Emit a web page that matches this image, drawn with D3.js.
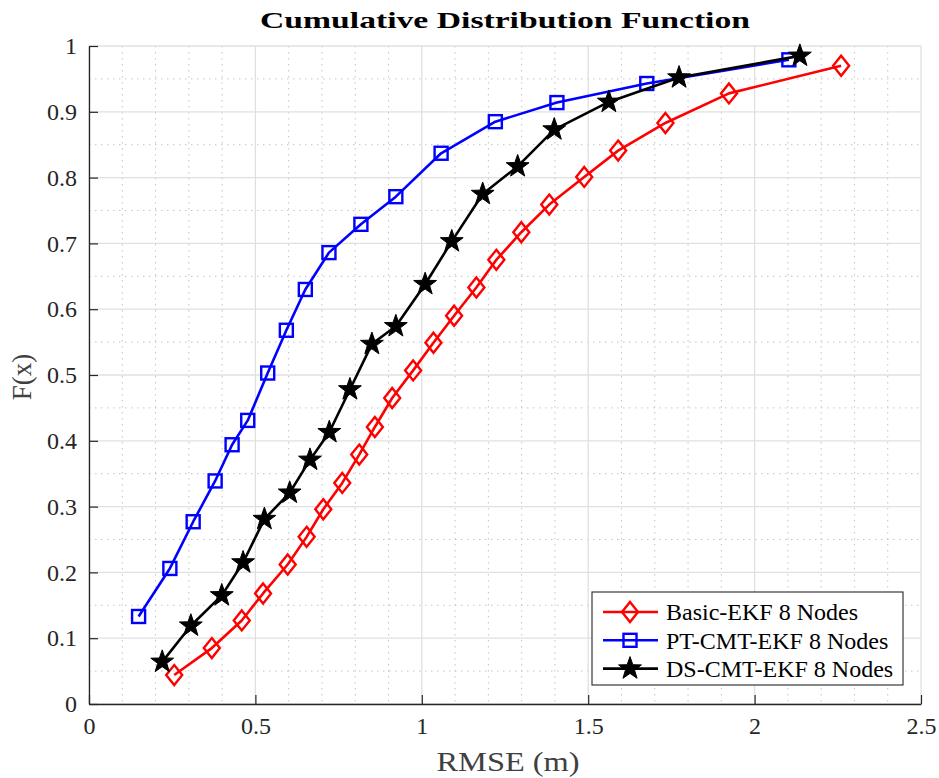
<!DOCTYPE html>
<html>
<head>
<meta charset="utf-8">
<script src="https://cdn.jsdelivr.net/npm/d3@7"></script>
<style>
  body { margin: 0; background: #fff; }
  text { font-family: "Liberation Serif", "DejaVu Serif", serif; }
</style>
</head>
<body>
<svg id="chart" width="939" height="778"></svg>
<script>
// series values (x = RMSE in m, y = F(x))
var basicX = [0.256, 0.369, 0.459, 0.523, 0.597, 0.654, 0.704, 0.761, 0.812, 0.859, 0.911, 0.974, 1.035, 1.097, 1.164, 1.224, 1.299, 1.383, 1.488, 1.590, 1.732, 1.923, 2.260];
var basicY = [0.044, 0.085, 0.127, 0.168, 0.212, 0.254, 0.296, 0.336, 0.379, 0.421, 0.465, 0.507, 0.549, 0.590, 0.633, 0.675, 0.717, 0.759, 0.801, 0.841, 0.883, 0.928, 0.970];

var ptX = [0.149, 0.243, 0.313, 0.379, 0.430, 0.477, 0.537, 0.593, 0.650, 0.721, 0.817, 0.922, 1.058, 1.221, 1.406, 1.676, 2.103];
var ptY = [0.133, 0.206, 0.277, 0.339, 0.394, 0.431, 0.503, 0.568, 0.630, 0.686, 0.729, 0.771, 0.837, 0.885, 0.914, 0.943, 0.979];

var dsX = [0.220, 0.306, 0.399, 0.463, 0.527, 0.603, 0.664, 0.722, 0.784, 0.850, 0.922, 1.010, 1.090, 1.183, 1.288, 1.398, 1.562, 1.773, 2.136];
var dsY = [0.064, 0.119, 0.165, 0.215, 0.281, 0.321, 0.371, 0.413, 0.478, 0.547, 0.574, 0.638, 0.703, 0.775, 0.817, 0.873, 0.915, 0.952, 0.985];

var seriesNames = ["Basic-EKF 8 Nodes", "PT-CMT-EKF 8 Nodes", "DS-CMT-EKF 8 Nodes"];
var xTicks = [0, 0.5, 1, 1.5, 2, 2.5];
var yTicks = [0, 0.1, 0.2, 0.3, 0.4, 0.5, 0.6, 0.7, 0.8, 0.9, 1];

var svg = d3.select("#chart");
// plot box edges
var pLeft = 89, pRight = 921, pTop = 46, pBottom = 704;

var x = d3.scaleLinear().domain([0, 2.5]).range([pLeft, pRight]);
var y = d3.scaleLinear().domain([0, 1]).range([pBottom, pTop]);

// minor grid (dotted)
var minorX = d3.range(0, 2.5001, 0.1).filter(function(v) { return Math.abs(v * 2 - Math.round(v * 2)) > 1e-6; });
var minorY = d3.range(0, 1.0001, 0.05).filter(function(v) { return Math.abs(v * 10 - Math.round(v * 10)) > 1e-6; });

svg.append("g").selectAll("line").data(minorX).enter().append("line")
  .attr("x1", function(d) { return x(d); }).attr("x2", function(d) { return x(d); })
  .attr("y1", pTop).attr("y2", pBottom)
  .attr("stroke", "#c4c4c4").attr("stroke-width", 1).attr("stroke-dasharray", "1.5,4.5");
svg.append("g").selectAll("line").data(minorY).enter().append("line")
  .attr("y1", function(d) { return y(d); }).attr("y2", function(d) { return y(d); })
  .attr("x1", pLeft).attr("x2", pRight)
  .attr("stroke", "#c4c4c4").attr("stroke-width", 1).attr("stroke-dasharray", "1.5,4.5");

// major grid
svg.append("g").selectAll("line").data(xTicks).enter().append("line")
  .attr("x1", function(d) { return x(d); }).attr("x2", function(d) { return x(d); })
  .attr("y1", pTop).attr("y2", pBottom)
  .attr("stroke", "#e0e0e0").attr("stroke-width", 1.3);
svg.append("g").selectAll("line").data(yTicks).enter().append("line")
  .attr("y1", function(d) { return y(d); }).attr("y2", function(d) { return y(d); })
  .attr("x1", pLeft).attr("x2", pRight)
  .attr("stroke", "#e0e0e0").attr("stroke-width", 1.3);

// axes (left and bottom only, ticks pointing inward)
var xAxis = svg.append("g").attr("transform", "translate(0," + pBottom + ")")
  .call(d3.axisBottom(x).tickValues(xTicks).tickSize(-9).tickSizeOuter(0).tickPadding(13)
    .tickFormat(function(d) { return d3.format("")(d); }));
var yAxis = svg.append("g").attr("transform", "translate(" + pLeft + ",0)")
  .call(d3.axisLeft(y).tickValues(yTicks).tickSize(-9).tickSizeOuter(0).tickPadding(12)
    .tickFormat(function(d) { return d3.format("")(d); }));

[xAxis, yAxis].forEach(function(a) {
  a.select(".domain").attr("stroke", "#262626").attr("stroke-width", 1.3);
  a.selectAll(".tick line").attr("stroke", "#262626").attr("stroke-width", 1.2);
  a.selectAll(".tick text").attr("fill", "#262626").style("font-size", "24px")
    .style("font-family", "'Liberation Serif', serif");
});

// titles
svg.append("text").attr("x", 505).attr("y", 28)
  .attr("text-anchor", "middle").style("font-size", "24px").style("font-weight", "bold")
  .attr("textLength", 490).attr("lengthAdjust", "spacingAndGlyphs")
  .attr("fill", "#000").text("Cumulative Distribution Function");
svg.append("text").attr("x", (pLeft + pRight) / 2 + 3).attr("y", 771)
  .attr("text-anchor", "middle").style("font-size", "27px").attr("fill", "#404040")
  .attr("textLength", 143).attr("lengthAdjust", "spacingAndGlyphs").text("RMSE (m)");
svg.append("text").attr("transform", "translate(31," + ((pTop + pBottom) / 2 + 2) + ") rotate(-90)")
  .attr("text-anchor", "middle").style("font-size", "27px").attr("fill", "#404040").text("F(x)");

// series
var series = [
  { name: seriesNames[0], xs: basicX, ys: basicY, color: "#ff0000", marker: "diamond" },
  { name: seriesNames[1], xs: ptX, ys: ptY, color: "#0000ff", marker: "square" },
  { name: seriesNames[2], xs: dsX, ys: dsY, color: "#000000", marker: "star" }
];

var line = d3.line().x(function(d) { return x(d[0]); }).y(function(d) { return y(d[1]); });

function starPath(r) {
  var pts = [];
  for (var i = 0; i < 10; i++) {
    var rr = i % 2 === 0 ? r : r * 0.4;
    var a = -Math.PI / 2 + i * Math.PI / 5;
    pts.push([rr * Math.cos(a), rr * Math.sin(a)]);
  }
  return "M" + pts.map(function(p) { return p[0].toFixed(2) + "," + p[1].toFixed(2); }).join("L") + "Z";
}

function drawMarker(g, kind, color) {
  if (kind === "diamond") {
    g.append("path").attr("d", "M0,-10L8,0L0,10L-8,0Z")
      .attr("fill", "none").attr("stroke", color).attr("stroke-width", 2.4);
  } else if (kind === "square") {
    g.append("rect").attr("x", -6.5).attr("y", -6.5).attr("width", 13).attr("height", 13)
      .attr("fill", "none").attr("stroke", color).attr("stroke-width", 2.4);
  } else {
    g.append("path").attr("d", starPath(12))
      .attr("fill", color).attr("stroke", color).attr("stroke-width", 1);
  }
}

series.forEach(function(s) {
  var pts = s.xs.map(function(v, i) { return [v, s.ys[i]]; });
  svg.append("path").datum(pts).attr("d", line)
    .attr("fill", "none").attr("stroke", s.color).attr("stroke-width", 2.6)
    .attr("stroke-linejoin", "round");
  pts.forEach(function(p) {
    var g = svg.append("g").attr("transform", "translate(" + x(p[0]) + "," + y(p[1]) + ")");
    drawMarker(g, s.marker, s.color);
  });
});

// legend
var legend = svg.append("g").attr("transform", "translate(592,592)");
legend.append("rect").attr("width", 311).attr("height", 93)
  .attr("fill", "#fff").attr("stroke", "#262626").attr("stroke-width", 1.1);
series.forEach(function(s, i) {
  var row = legend.append("g").attr("transform", "translate(0," + (20 + i * 28.3) + ")");
  row.append("line").attr("x1", 11).attr("x2", 66).attr("y1", 0).attr("y2", 0)
    .attr("stroke", s.color).attr("stroke-width", 2.6);
  drawMarker(row.append("g").attr("transform", "translate(38,0)"), s.marker, s.color);
  row.append("text").attr("x", 74).attr("y", 0).attr("dy", "0.35em")
    .style("font-size", "24px").attr("fill", "#000").text(s.name);
});
</script>
</body>
</html>
